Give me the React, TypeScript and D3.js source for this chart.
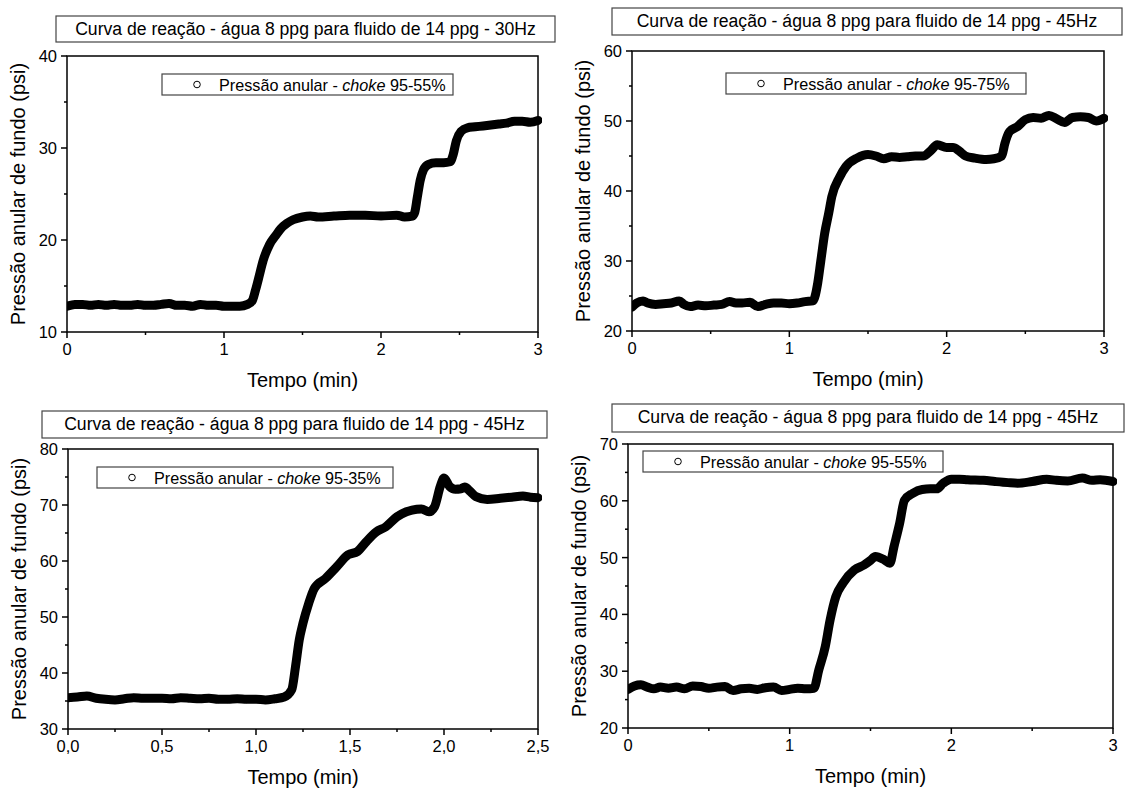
import React from "react";
import * as d3 from "d3";

const FONT = "'Liberation Sans', Arial, Helvetica, sans-serif";

// ---------- Panel 1 : 30Hz, choke 95-55% ----------
const p1Title = "Curva de reação - água 8 ppg para fluido de 14 ppg - 30Hz";
const p1Legend = "95-55%";
const p1XTicks = [0, 1, 2, 3];
const p1YTicks = [10, 20, 30, 40];
const p1Time = [0.0, 0.05, 0.1, 0.15, 0.2, 0.25, 0.3, 0.35, 0.4, 0.45, 0.5, 0.55, 0.6, 0.65, 0.7, 0.75, 0.8, 0.85, 0.9, 0.95, 1.0, 1.05, 1.1, 1.15, 1.18, 1.2, 1.22, 1.25, 1.29, 1.33, 1.36, 1.4, 1.44, 1.5, 1.55, 1.6, 1.7, 1.8, 1.9, 2.0, 2.1, 2.15, 2.2, 2.215, 2.23, 2.25, 2.27, 2.3, 2.35, 2.4, 2.44, 2.46, 2.48, 2.51, 2.55, 2.6, 2.65, 2.7, 2.75, 2.8, 2.85, 2.9, 2.95, 3.0];
const p1Pressure = [12.8, 13.0, 13.0, 12.9, 13.0, 12.9, 13.0, 12.9, 12.9, 13.0, 12.9, 12.9, 13.0, 13.1, 12.9, 12.9, 12.8, 13.0, 12.9, 12.9, 12.8, 12.8, 12.8, 13.0, 13.4, 14.5, 15.8, 17.8, 19.5, 20.5, 21.2, 21.8, 22.2, 22.5, 22.6, 22.5, 22.6, 22.7, 22.7, 22.6, 22.7, 22.5, 22.6, 23.0, 24.5, 26.5, 27.6, 28.2, 28.4, 28.4, 28.5, 29.3, 30.8, 31.8, 32.2, 32.3, 32.4, 32.5, 32.6, 32.7, 32.9, 32.9, 32.8, 33.0];

// ---------- Panel 2 : 45Hz, choke 95-75% ----------
const p2Title = "Curva de reação - água 8 ppg para fluido de 14 ppg - 45Hz";
const p2Legend = "95-75%";
const p2XTicks = [0, 1, 2, 3];
const p2YTicks = [20, 30, 40, 50, 60];
const p2Time = [0.0, 0.03, 0.07, 0.1, 0.15, 0.2, 0.25, 0.3, 0.33, 0.37, 0.42, 0.47, 0.52, 0.57, 0.62, 0.66, 0.7, 0.75, 0.8, 0.85, 0.9, 0.95, 1.0, 1.05, 1.1, 1.15, 1.18, 1.2, 1.225, 1.25, 1.27, 1.32, 1.36, 1.43, 1.5, 1.55, 1.6, 1.65, 1.7, 1.75, 1.8, 1.85, 1.9, 1.94, 2.0, 2.04, 2.08, 2.12, 2.18, 2.25, 2.3, 2.35, 2.37, 2.4, 2.45, 2.5, 2.55, 2.6, 2.65, 2.7, 2.75, 2.8, 2.85, 2.9, 2.95, 3.0];
const p2Pressure = [23.4, 24.0, 24.3, 24.0, 23.8, 23.9, 24.0, 24.3, 23.8, 23.5, 23.7, 23.6, 23.7, 23.8, 24.2, 24.0, 24.0, 24.1, 23.5, 23.8, 24.0, 24.0, 23.9, 24.0, 24.2, 24.3, 26.8, 30.0, 34.0, 36.8, 39.2, 42.0, 43.5, 44.7, 45.2, 45.0, 44.6, 44.9, 44.8, 44.9, 45.0, 45.0, 45.8, 46.6, 46.2, 46.2, 45.7, 45.0, 44.7, 44.5, 44.6, 45.0, 46.8, 48.5, 49.2, 50.2, 50.5, 50.4, 50.8, 50.3, 49.8, 50.5, 50.6, 50.5, 50.0, 50.4];

// ---------- Panel 3 : 45Hz, choke 95-35% ----------
const p3Title = "Curva de reação - água 8 ppg para fluido de 14 ppg - 45Hz";
const p3Legend = "95-35%";
const p3XTicks = [0, 0.5, 1.0, 1.5, 2.0, 2.5];
const p3YTicks = [30, 40, 50, 60, 70, 80];
const p3Time = [0.0, 0.05, 0.1, 0.15, 0.2, 0.25, 0.3, 0.35, 0.4, 0.45, 0.5, 0.55, 0.6, 0.65, 0.7, 0.75, 0.8, 0.85, 0.9, 0.95, 1.0, 1.05, 1.1, 1.15, 1.19, 1.21, 1.23, 1.25, 1.28, 1.31, 1.37, 1.43, 1.49, 1.54, 1.58, 1.64, 1.69, 1.75, 1.8, 1.83, 1.88, 1.92, 1.95, 1.98, 2.0, 2.03, 2.06, 2.09, 2.11, 2.14, 2.17, 2.23, 2.3, 2.36, 2.42, 2.46, 2.5];
const p3Pressure = [35.6, 35.7, 35.9, 35.5, 35.3, 35.2, 35.4, 35.6, 35.5, 35.5, 35.5, 35.4, 35.6, 35.5, 35.4, 35.5, 35.3, 35.3, 35.4, 35.3, 35.3, 35.2, 35.4, 35.7, 37.0, 41.1, 45.9, 48.9, 52.4, 55.1, 56.9, 59.0, 61.1, 61.7, 63.2, 65.2, 66.1, 67.9, 68.8, 69.1, 69.3, 68.8, 69.7, 73.3, 74.8, 73.3, 72.8, 72.9, 73.2, 72.4, 71.5, 71.0, 71.2, 71.4, 71.6, 71.4, 71.3];

// ---------- Panel 4 : 45Hz, choke 95-55% ----------
const p4Title = "Curva de reação - água 8 ppg para fluido de 14 ppg - 45Hz";
const p4Legend = "95-55%";
const p4XTicks = [0, 1, 2, 3];
const p4YTicks = [20, 30, 40, 50, 60, 70];
const p4Time = [0.0, 0.04, 0.08, 0.12, 0.16, 0.2, 0.25, 0.3, 0.35, 0.4, 0.45, 0.5, 0.55, 0.6, 0.65, 0.7, 0.75, 0.8, 0.85, 0.9, 0.95, 1.0, 1.05, 1.1, 1.15, 1.18, 1.22, 1.25, 1.285, 1.33, 1.4, 1.46, 1.5, 1.53, 1.58, 1.62, 1.645, 1.68, 1.71, 1.76, 1.82, 1.87, 1.91, 1.95, 2.0, 2.05, 2.1, 2.2, 2.27, 2.35, 2.41, 2.5, 2.59, 2.65, 2.72, 2.81, 2.87, 2.92, 3.0];
const p4Pressure = [26.8, 27.4, 27.6, 27.2, 26.9, 27.2, 27.0, 27.2, 26.9, 27.4, 27.3, 27.0, 27.2, 27.3, 26.6, 26.9, 27.0, 26.8, 27.1, 27.2, 26.6, 26.8, 27.0, 26.9, 27.0, 30.2, 34.3, 39.0, 43.1, 45.5, 47.8, 48.7, 49.5, 50.2, 49.7, 49.0, 51.9, 56.0, 60.1, 61.3, 62.0, 62.1, 62.1, 63.1, 63.8, 63.8, 63.7, 63.6, 63.4, 63.2, 63.1, 63.4, 63.8, 63.6, 63.5, 64.0, 63.6, 63.7, 63.4];

const yTitle = "Pressão anular de fundo (psi)";
const xTitle = "Tempo (min)";
const legendPrefix = "Pressão anular - ";
const legendItalic = "choke";

const commaLocale = d3.formatLocale({ decimal: ",", thousands: ".", grouping: [3], currency: ["", ""] });

type Box = { x0: number; x1: number; y0: number; y1: number };
type Spec = {
  title: string;
  legend: string;
  time: number[];
  pressure: number[];
  xTicks: number[];
  yTicks: number[];
  xFormat: (v: number) => string;
  plot: Box;
  titleBox: Box;
  legendBox: Box;
};

const specs: Spec[] = [
  {
    title: p1Title, legend: p1Legend, time: p1Time, pressure: p1Pressure,
    xTicks: p1XTicks, yTicks: p1YTicks, xFormat: d3.format("d"),
    plot: { x0: 67, x1: 538, y0: 56, y1: 332 },
    titleBox: { x0: 56, x1: 555, y0: 16, y1: 42 },
    legendBox: { x0: 162, x1: 453, y0: 74, y1: 95 },
  },
  {
    title: p2Title, legend: p2Legend, time: p2Time, pressure: p2Pressure,
    xTicks: p2XTicks, yTicks: p2YTicks, xFormat: d3.format("d"),
    plot: { x0: 632, x1: 1104, y0: 51, y1: 331 },
    titleBox: { x0: 612, x1: 1122, y0: 8, y1: 35 },
    legendBox: { x0: 726, x1: 1026, y0: 73, y1: 94 },
  },
  {
    title: p3Title, legend: p3Legend, time: p3Time, pressure: p3Pressure,
    xTicks: p3XTicks, yTicks: p3YTicks, xFormat: commaLocale.format(".1f"),
    plot: { x0: 68, x1: 538, y0: 449, y1: 729 },
    titleBox: { x0: 42, x1: 547, y0: 411, y1: 438 },
    legendBox: { x0: 97, x1: 393, y0: 467, y1: 488 },
  },
  {
    title: p4Title, legend: p4Legend, time: p4Time, pressure: p4Pressure,
    xTicks: p4XTicks, yTicks: p4YTicks, xFormat: d3.format("d"),
    plot: { x0: 628, x1: 1113, y0: 444, y1: 728 },
    titleBox: { x0: 612, x1: 1124, y0: 404, y1: 432 },
    legendBox: { x0: 643, x1: 943, y0: 451, y1: 472 },
  },
];

function midpoints(ticks: number[]): number[] {
  const out: number[] = [];
  for (let i = 0; i < ticks.length - 1; i++) out.push((ticks[i] + ticks[i + 1]) / 2);
  return out;
}

function Panel({ spec }: { spec: Spec }) {
  const { plot, titleBox, legendBox } = spec;
  const x = d3.scaleLinear()
    .domain([spec.xTicks[0], spec.xTicks[spec.xTicks.length - 1]])
    .range([plot.x0, plot.x1]);
  const y = d3.scaleLinear()
    .domain([spec.yTicks[0], spec.yTicks[spec.yTicks.length - 1]])
    .range([plot.y1, plot.y0]);
  const pts: [number, number][] = spec.time.map((t, i) => [t, spec.pressure[i]]);
  const line = d3.line<[number, number]>()
    .x((d) => x(d[0]))
    .y((d) => y(d[1]))
    .curve(d3.curveMonotoneX);
  const xMinor = midpoints(spec.xTicks);
  const yMinor = midpoints(spec.yTicks);
  const cx = (plot.x0 + plot.x1) / 2;
  const cy = (plot.y0 + plot.y1) / 2;
  const clipId = `clip-${plot.x0}-${plot.y0}`;
  return (
    <g>
      <defs>
        <clipPath id={clipId}>
          <rect x={plot.x0} y={plot.y0 - 4} width={plot.x1 - plot.x0 + 4} height={plot.y1 - plot.y0 + 4} />
        </clipPath>
      </defs>
      {/* title box */}
      <rect x={titleBox.x0} y={titleBox.y0} width={titleBox.x1 - titleBox.x0} height={titleBox.y1 - titleBox.y0}
        fill="#fff" stroke="#444" strokeWidth={1.2} />
      <text x={(titleBox.x0 + titleBox.x1) / 2} y={titleBox.y0 + 19} textAnchor="middle"
        fontSize={17.6} fontFamily={FONT} fill="#000">{spec.title}</text>

      {/* data */}
      <g clipPath={`url(#${clipId})`}>
        <path d={line(pts) || ""} fill="none" stroke="#000" strokeWidth={9} strokeLinejoin="round" strokeLinecap="round" />
        {pts.map((d, i) => (
          <circle key={i} cx={x(d[0])} cy={y(d[1])} r={3.3} fill="none" stroke="#000" strokeWidth={1} />
        ))}
      </g>

      {/* frame */}
      <rect x={plot.x0} y={plot.y0} width={plot.x1 - plot.x0} height={plot.y1 - plot.y0}
        fill="none" stroke="#000" strokeWidth={1.5} />

      {/* y ticks */}
      {spec.yTicks.map((v) => (
        <g key={`y${v}`}>
          <line x1={plot.x0 - 6} x2={plot.x0} y1={y(v)} y2={y(v)} stroke="#000" strokeWidth={1.5} />
          <text x={plot.x0 - 10} y={y(v) + 6} textAnchor="end" fontSize={16.5} fontFamily={FONT} fill="#000">{v}</text>
        </g>
      ))}
      {yMinor.map((v) => (
        <line key={`ym${v}`} x1={plot.x0 - 3} x2={plot.x0} y1={y(v)} y2={y(v)} stroke="#000" strokeWidth={1.5} />
      ))}

      {/* x ticks */}
      {spec.xTicks.map((v) => (
        <g key={`x${v}`}>
          <line x1={x(v)} x2={x(v)} y1={plot.y1} y2={plot.y1 + 6} stroke="#000" strokeWidth={1.5} />
          <text x={x(v)} y={plot.y1 + 23} textAnchor="middle" fontSize={16.5} fontFamily={FONT} fill="#000">{spec.xFormat(v)}</text>
        </g>
      ))}
      {xMinor.map((v) => (
        <line key={`xm${v}`} x1={x(v)} x2={x(v)} y1={plot.y1} y2={plot.y1 + 3} stroke="#000" strokeWidth={1.5} />
      ))}

      {/* axis titles */}
      <text x={cx} y={plot.y1 + 55} textAnchor="middle" fontSize={20} fontFamily={FONT} fill="#000">{xTitle}</text>
      <text transform={`translate(${plot.x0 - 42},${cy}) rotate(-90)`} textAnchor="middle" fontSize={20}
        fontFamily={FONT} fill="#000">{yTitle}</text>

      {/* legend */}
      <rect x={legendBox.x0} y={legendBox.y0} width={legendBox.x1 - legendBox.x0} height={legendBox.y1 - legendBox.y0}
        fill="#fff" stroke="#444" strokeWidth={1.2} />
      <circle cx={legendBox.x0 + 35} cy={(legendBox.y0 + legendBox.y1) / 2} r={3.3} fill="#fff" stroke="#000" strokeWidth={1} />
      <text x={legendBox.x0 + 57} y={(legendBox.y0 + legendBox.y1) / 2 + 6} fontSize={16.2} fontFamily={FONT} fill="#000">
        <tspan>{legendPrefix}</tspan>
        <tspan fontStyle="italic">{legendItalic}</tspan>
        <tspan>{" " + spec.legend}</tspan>
      </text>
    </g>
  );
}

export default function App() {
  return (
    <svg width={1126} height={792} viewBox="0 0 1126 792"
      style={{ position: "absolute", left: 0, top: 0, background: "#fff" }}>
      <rect x={0} y={0} width={1126} height={792} fill="#fff" />
      {specs.map((s, i) => (
        <Panel key={i} spec={s} />
      ))}
    </svg>
  );
}
